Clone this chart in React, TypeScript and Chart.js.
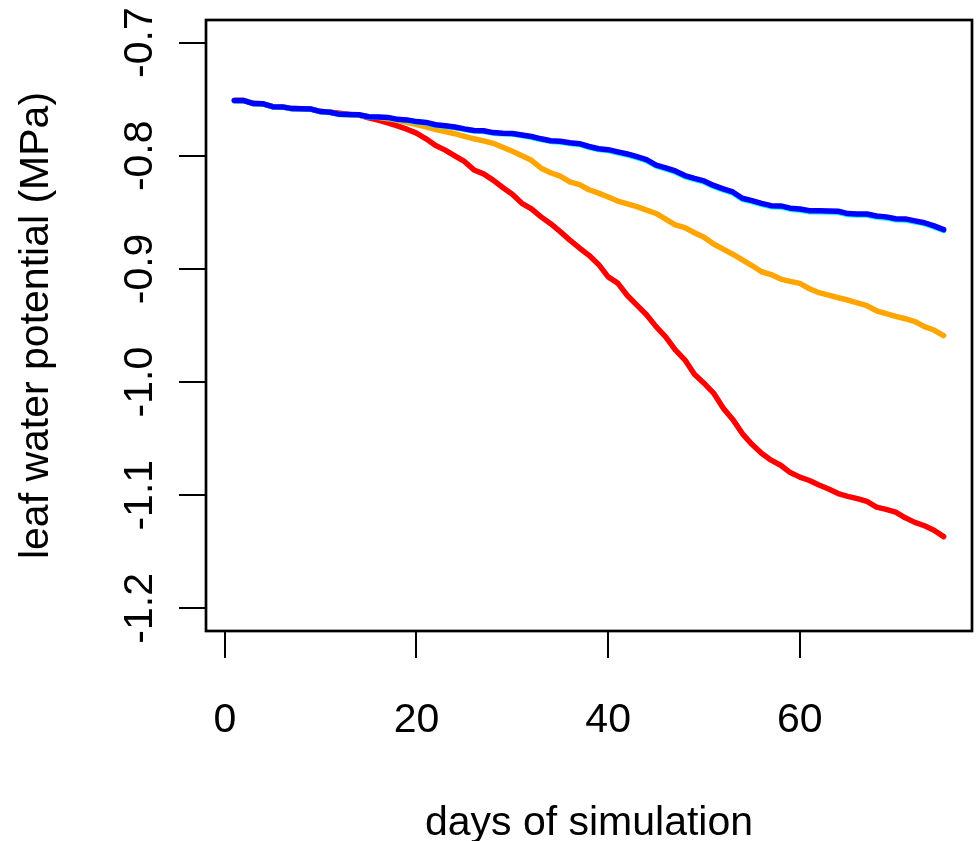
import React, { useEffect, useRef } from "react";
import { Chart, registerables } from "chart.js";

Chart.register(...registerables);

const days: number[] = Array.from({ length: 75 }, (_, i) => i + 1);

const blueSeries: number[] = [
  -0.7512, -0.7512, -0.7539, -0.7541, -0.7566, -0.7568, -0.7583, -0.7585, -0.7587, -0.7609,
  -0.7615, -0.7634, -0.7636, -0.7638, -0.7655, -0.7658, -0.7661, -0.7678, -0.7683, -0.7698,
  -0.7705, -0.7726, -0.7735, -0.7746, -0.7762, -0.7776, -0.7779, -0.7795, -0.7801, -0.7803,
  -0.7816, -0.783, -0.785, -0.7867, -0.7872, -0.7885, -0.7893, -0.7918, -0.7938, -0.7946,
  -0.7965, -0.7984, -0.8008, -0.8034, -0.8082, -0.8106, -0.8134, -0.8175, -0.82, -0.8222,
  -0.8262, -0.8292, -0.832, -0.8375, -0.8396, -0.842, -0.8441, -0.8443, -0.8463, -0.847,
  -0.8485, -0.8486, -0.8487, -0.849, -0.8511, -0.8514, -0.8515, -0.8532, -0.854, -0.8556,
  -0.8558, -0.8575, -0.8592, -0.862, -0.8653,
];

const cyanSeries: number[] = [
  -0.7513, -0.7513, -0.754, -0.7542, -0.7567, -0.7569, -0.7584, -0.7586, -0.7589, -0.761,
  -0.7617, -0.7636, -0.7638, -0.764, -0.7657, -0.766, -0.7664, -0.768, -0.7686, -0.7701,
  -0.7709, -0.773, -0.7739, -0.775, -0.7767, -0.778, -0.7784, -0.78, -0.7806, -0.7808,
  -0.7822, -0.7836, -0.7856, -0.7873, -0.7879, -0.7892, -0.79, -0.7925, -0.7945, -0.7953,
  -0.7973, -0.7992, -0.8016, -0.8042, -0.809, -0.8115, -0.8143, -0.8184, -0.8209, -0.8231,
  -0.8271, -0.8301, -0.8329, -0.8384, -0.8405, -0.8429, -0.845, -0.8452, -0.8472, -0.8479,
  -0.8494, -0.8495, -0.8496, -0.8499, -0.852, -0.8523, -0.8524, -0.8541, -0.8549, -0.8565,
  -0.8567, -0.8584, -0.86, -0.8628, -0.866,
];

const orangeSeries: number[] = [
  -0.7512, -0.7512, -0.7539, -0.7541, -0.7566, -0.7568, -0.7583, -0.7585, -0.7587, -0.7609,
  -0.7615, -0.7634, -0.7636, -0.764, -0.7652, -0.766, -0.7672, -0.7687, -0.7705, -0.7725,
  -0.7745, -0.7768, -0.7785, -0.7805, -0.7828, -0.785, -0.7868, -0.789, -0.7925, -0.796,
  -0.8, -0.804, -0.811, -0.815, -0.818, -0.823, -0.8255, -0.83, -0.833, -0.8365,
  -0.84, -0.8425, -0.845, -0.848, -0.851, -0.856, -0.861, -0.8635, -0.868, -0.872,
  -0.878, -0.8825, -0.887, -0.892, -0.897, -0.9025, -0.905, -0.909, -0.911, -0.9128,
  -0.9175, -0.921, -0.9232, -0.9255, -0.9275, -0.93, -0.9325, -0.937, -0.9395, -0.942,
  -0.944, -0.9465, -0.951, -0.954, -0.959,
];

const redSeries: number[] = [
  -0.7512, -0.7512, -0.7539, -0.7541, -0.7566, -0.7568, -0.7583, -0.7585, -0.7587, -0.7609,
  -0.7615, -0.7625, -0.7635, -0.764, -0.7665, -0.7685, -0.771, -0.7735, -0.7765, -0.78,
  -0.785, -0.791, -0.795, -0.8, -0.805, -0.8125, -0.816, -0.8215, -0.828, -0.834,
  -0.842, -0.847, -0.854, -0.86, -0.867, -0.8745, -0.8815, -0.888, -0.896, -0.907,
  -0.9125, -0.9235, -0.932, -0.9405, -0.951, -0.96, -0.9715, -0.9803, -0.993, -1.001,
  -1.0097, -1.023, -1.033, -1.0455, -1.055, -1.063, -1.069, -1.0735, -1.08, -1.084,
  -1.087, -1.091, -1.0945, -1.0985, -1.101, -1.103, -1.1055, -1.1105, -1.1125, -1.115,
  -1.12, -1.124, -1.127, -1.131, -1.1366,
];

const xTickValues: number[] = [0, 20, 40, 60];
const yTickValues: number[] = [-0.7, -0.8, -0.9, -1.0, -1.1, -1.2];
const yTickLabels: string[] = ["-0.7", "-0.8", "-0.9", "-1.0", "-1.1", "-1.2"];
const xTitle = "days of simulation";
const yTitle = "leaf water potential (MPa)";

const FONT = "41px 'Liberation Sans', Arial, Helvetica, sans-serif";

const rPlotPlugin = {
  id: "rPlot",
  afterDraw(chart: any) {
    const ctx = chart.ctx as CanvasRenderingContext2D;
    const area = chart.chartArea;
    const xs = chart.scales.x;
    const ys = chart.scales.y;
    ctx.save();
    ctx.strokeStyle = "#000";
    ctx.lineWidth = 2.7;
    ctx.strokeRect(area.left, area.top, area.right - area.left, area.bottom - area.top);
    ctx.fillStyle = "#000";
    ctx.font = FONT;
    ctx.textAlign = "center";
    ctx.textBaseline = "alphabetic";
    xTickValues.forEach((v) => {
      ctx.fillText(String(v), xs.getPixelForValue(v), 732);
    });
    yTickValues.forEach((v, i) => {
      ctx.save();
      ctx.translate(152, ys.getPixelForValue(v));
      ctx.rotate(-Math.PI / 2);
      ctx.fillText(yTickLabels[i], 0, 0);
      ctx.restore();
    });
    ctx.fillText(xTitle, (area.left + area.right) / 2, 835);
    ctx.save();
    ctx.translate(48, (area.top + area.bottom) / 2);
    ctx.rotate(-Math.PI / 2);
    ctx.fillText(yTitle, 0, 0);
    ctx.restore();
    ctx.restore();
  },
};

export default function App() {
  const canvasRef = useRef<HTMLCanvasElement | null>(null);

  useEffect(() => {
    if (!canvasRef.current) return;
    const mk = (vals: number[]) => days.map((d, i) => ({ x: d, y: vals[i] }));
    const common = {
      pointRadius: 0,
      pointHoverRadius: 0,
      borderWidth: 5.5,
      fill: false,
      tension: 0,
      borderCapStyle: "round" as const,
      borderJoinStyle: "round" as const,
    };
    const chart = new Chart(canvasRef.current, {
      type: "line",
      data: {
        datasets: [
          { ...common, label: "blue", data: mk(blueSeries), borderColor: "#0000FF" },
          { ...common, label: "cyan", data: mk(cyanSeries), borderColor: "#00FFFF" },
          { ...common, label: "orange", data: mk(orangeSeries), borderColor: "#FFA500" },
          { ...common, label: "red", data: mk(redSeries), borderColor: "#FF0000" },
        ],
      },
      options: {
        animation: false,
        responsive: false,
        devicePixelRatio: 1,
        layout: { padding: { top: 20, right: 5, left: 0, bottom: 0 } },
        plugins: { legend: { display: false }, tooltip: { enabled: false } },
        scales: {
          x: {
            type: "linear",
            min: -1.96,
            max: 77.96,
            afterBuildTicks: (s: any) => {
              s.ticks = xTickValues.map((v) => ({ value: v }));
            },
            afterFit: (s: any) => {
              s.height = 210;
            },
            grid: {
              display: true,
              drawOnChartArea: false,
              drawTicks: true,
              tickLength: 27,
              color: "#000",
              lineWidth: 2,
            },
            border: { display: false },
            ticks: { display: false },
          },
          y: {
            type: "linear",
            min: -1.22,
            max: -0.68,
            afterBuildTicks: (s: any) => {
              s.ticks = yTickValues.map((v) => ({ value: v }));
            },
            afterFit: (s: any) => {
              s.width = 206;
            },
            grid: {
              display: true,
              drawOnChartArea: false,
              drawTicks: true,
              tickLength: 27,
              color: "#000",
              lineWidth: 2,
            },
            border: { display: false },
            ticks: { display: false },
          },
        },
      },
      plugins: [rPlotPlugin],
    });
    return () => chart.destroy();
  }, []);

  return (
    <div style={{ position: "fixed", left: 0, top: 0, width: 977, height: 841, background: "#fff" }}>
      <canvas ref={canvasRef} width={977} height={841} style={{ width: 977, height: 841, display: "block" }} />
    </div>
  );
}
